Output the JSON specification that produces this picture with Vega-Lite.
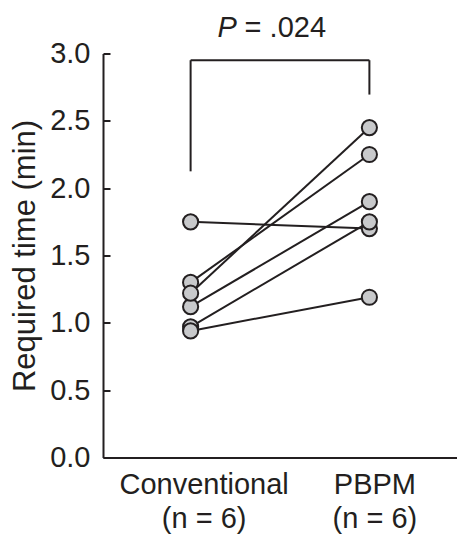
{
  "$schema": "https://vega.github.io/schema/vega-lite/v6.json",
  "width": 354,
  "height": 404,
  "autosize": {"type": "none"},
  "padding": {"left": 103, "top": 53.5, "right": 0, "bottom": 88.5},
  "background": "white",
  "config": {
    "view": {"stroke": null},
    "font": "Liberation Sans",
    "axis": {"grid": false, "domainColor": "#231f20", "domainWidth": 2, "tickColor": "#231f20", "tickWidth": 2, "labelColor": "#231f20", "titleColor": "#231f20", "labelFont": "Liberation Sans", "titleFont": "Liberation Sans"}
  },
  "datasets": {
    "obs": [
      {"id": "s1", "group": "Conventional", "time": 1.75},
      {"id": "s2", "group": "Conventional", "time": 1.30},
      {"id": "s4", "group": "Conventional", "time": 1.12},
      {"id": "s5", "group": "Conventional", "time": 0.97},
      {"id": "s3", "group": "Conventional", "time": 1.22},
      {"id": "s6", "group": "Conventional", "time": 0.94},
      {"id": "s1", "group": "PBPM", "time": 1.70},
      {"id": "s2", "group": "PBPM", "time": 2.25},
      {"id": "s4", "group": "PBPM", "time": 1.90},
      {"id": "s5", "group": "PBPM", "time": 1.75},
      {"id": "s3", "group": "PBPM", "time": 2.45},
      {"id": "s6", "group": "PBPM", "time": 1.19}
    ],
    "bracket": [
      {"part": "left", "group": "Conventional", "y1": 2.125, "y2": 2.95},
      {"part": "right", "group": "PBPM", "y1": 2.695, "y2": 2.95}
    ],
    "bar": [
      {"from": "Conventional", "to": "PBPM", "level": 2.95}
    ],
    "ptext": [
      {"group": "Conventional", "level": 3.12, "p": "P", "rest": "= .024"}
    ]
  },
  "layer": [
    {
      "data": {"name": "obs"},
      "mark": {"type": "line", "color": "#231f20", "strokeWidth": 2},
      "encoding": {
        "x": {"field": "group", "type": "nominal", "sort": ["Conventional", "PBPM"],
          "scale": {"type": "point", "padding": 0.49, "domain": ["Conventional", "PBPM"]},
          "axis": {"title": null, "ticks": false, "labelFontSize": 29, "labelPadding": 13, "labelLineHeight": 34,
            "labelOffset": {"condition": {"test": "datum.value == 'Conventional'", "value": 13}, "value": 5},
            "labelExpr": "[datum.value, '(n = 6)']", "labelAngle": 0}},
        "y": {"field": "time", "type": "quantitative",
          "scale": {"domain": [0, 3], "nice": false, "zero": true},
          "axis": {"title": "Required time (min)", "values": [0, 0.5, 1, 1.5, 2, 2.5, 3], "format": ".1f",
            "tickSize": -7, "labelPadding": 20, "labelFontSize": 29, "titleFontSize": 31, "titleFontWeight": "normal", "titlePadding": 8}},
        "detail": {"field": "id"}
      }
    },
    {
      "data": {"name": "obs"},
      "mark": {"type": "point", "shape": "circle", "filled": true, "fill": "#c8c9cb", "stroke": "#231f20", "strokeWidth": 2, "size": 230, "opacity": 1},
      "encoding": {
        "x": {"field": "group", "type": "nominal"},
        "y": {"field": "time", "type": "quantitative"}
      }
    },
    {
      "data": {"name": "bracket"},
      "mark": {"type": "rule", "color": "#231f20", "strokeWidth": 2, "clip": false},
      "encoding": {
        "x": {"field": "group", "type": "nominal"},
        "y": {"field": "y1", "type": "quantitative"},
        "y2": {"field": "y2"}
      }
    },
    {
      "data": {"name": "bar"},
      "mark": {"type": "rule", "color": "#231f20", "strokeWidth": 2, "clip": false},
      "encoding": {
        "x": {"field": "from", "type": "nominal"},
        "x2": {"field": "to"},
        "y": {"field": "level", "type": "quantitative"}
      }
    },
    {
      "data": {"name": "ptext"},
      "mark": {"type": "text", "align": "left", "baseline": "alphabetic", "fontSize": 29, "fontStyle": "italic", "color": "#231f20", "dx": 27},
      "encoding": {
        "x": {"field": "group", "type": "nominal"},
        "y": {"field": "level", "type": "quantitative"},
        "text": {"field": "p"}
      }
    },
    {
      "data": {"name": "ptext"},
      "mark": {"type": "text", "align": "left", "baseline": "alphabetic", "fontSize": 29, "color": "#231f20", "dx": 54},
      "encoding": {
        "x": {"field": "group", "type": "nominal"},
        "y": {"field": "level", "type": "quantitative"},
        "text": {"field": "rest"}
      }
    }
  ]
}
